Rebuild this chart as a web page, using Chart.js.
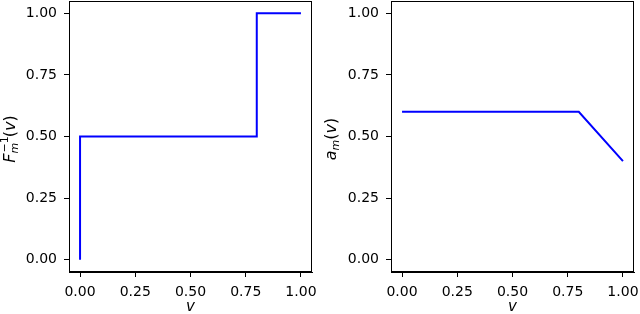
<!DOCTYPE html>
<html>
<head>
<meta charset="utf-8">
<script src="https://cdn.jsdelivr.net/npm/chart.js@4"></script>
<style>
  html, body { margin: 0; padding: 0; background: #fff; }
  #wrap { position: relative; width: 640px; height: 314px; }
  canvas { position: absolute; top: 0; }
</style>
</head>
<body>
<div id="wrap">
  <canvas id="left" width="320" height="314" style="left:0"></canvas>
  <canvas id="right" width="320" height="314" style="left:320px"></canvas>
</div>
<script>
// Données
const quantileV = [0, 0, 0.8, 0.8, 1];
const quantileF = [0, 0.5, 0.5, 1, 1];
const allocV = [0, 0.8, 1];
const allocA = [0.6, 0.6, 0.4];
const tickValues = [0, 0.25, 0.5, 0.75, 1];
const tickLabels = ["0.00", "0.25", "0.50", "0.75", "1.00"];

const FONT = "DejaVu Sans";

// Label math (F_m^{-1}(v), a_m(v)) dessiné en texte sur le canvas
function drawLabel(ctx, parts, x, cy) {
  ctx.save();
  ctx.fillStyle = "#000";
  ctx.textBaseline = "alphabetic";
  ctx.textAlign = "left";
  // mesure
  let w = 0, start = 0, prevW = 0;
  parts.forEach(p => {
    ctx.font = p.font;
    p.w = ctx.measureText(p.t).width;
    if (p.stack) { w = start + Math.max(prevW, p.w); }
    else { start = w; w += p.w; }
    prevW = p.w;
  });
  ctx.translate(x, cy);
  ctx.rotate(-Math.PI / 2);
  let cur = -w / 2; start = cur; prevW = 0;
  parts.forEach(p => {
    ctx.font = p.font;
    if (p.stack) {
      ctx.fillText(p.t, start + (p.dx || 0), p.dy || 0);
      cur = start + Math.max(prevW, p.w);
    } else {
      start = cur;
      ctx.fillText(p.t, cur + (p.dx || 0), p.dy || 0);
      cur += p.w;
    }
    prevW = p.w;
  });
  ctx.restore();
}

const framePlugin = {
  id: "frame",
  afterDraw(chart, args, opts) {
    const { ctx, chartArea: a } = chart;
    ctx.save();
    ctx.strokeStyle = "#000";
    ctx.lineWidth = 1;
    ctx.strokeRect(Math.round(a.left) + 0.5, Math.round(a.top) + 0.5,
      Math.round(a.right - a.left) - 1, Math.round(a.bottom - a.top) - 1);
    ctx.restore();
    drawLabel(ctx, opts.parts, opts.x, opts.cy);
  }
};

function makeChart(id, xs, ys, yWidth, padRight, labelParts, labelX) {
  const ctx = document.getElementById(id).getContext("2d");
  return new Chart(ctx, {
    type: "line",
    data: {
      datasets: [{
        data: xs.map((v, i) => ({ x: v, y: ys[i] })),
        borderColor: "#0000ff",
        borderWidth: 2,
        pointRadius: 0,
        tension: 0,
        fill: false
      }]
    },
    options: {
      responsive: false,
      animation: false,
      layout: { padding: { left: 0, right: padRight, top: 1, bottom: 0 } },
      plugins: {
        legend: { display: false },
        tooltip: { enabled: false },
        frame: { parts: labelParts, x: labelX, cy: 139 }
      },
      scales: {
        x: {
          type: "linear",
          min: -0.05, max: 1.05,
          afterBuildTicks: s => { s.ticks = tickValues.map(v => ({ value: v })); },
          afterFit: s => { s.height = 42; s.paddingLeft = 0; s.paddingRight = 0; },
          grid: { drawOnChartArea: false, drawTicks: true, tickLength: 5, color: "#000" },
          border: { display: true, color: "#000", width: 1 },
          ticks: {
            color: "#000", padding: 7, maxRotation: 0,
            font: { family: FONT, size: 14 },
            callback: (v) => tickLabels[tickValues.indexOf(v)]
          },
          title: {
            display: true, text: "v", color: "#000",
            font: { family: FONT, size: 15, style: "italic" },
            padding: { top: 0, bottom: -2 }
          }
        },
        y: {
          type: "linear",
          min: -0.05, max: 1.05,
          afterBuildTicks: s => { s.ticks = tickValues.map(v => ({ value: v })); },
          afterFit: s => { s.width = yWidth; s.paddingTop = 0; s.paddingBottom = 0; },
          grid: { drawOnChartArea: false, drawTicks: true, tickLength: 5, color: "#000" },
          border: { display: true, color: "#000", width: 1 },
          ticks: {
            color: "#000", padding: 7,
            font: { family: FONT, size: 14 },
            callback: (v) => tickLabels[tickValues.indexOf(v)]
          }
        }
      }
    },
    plugins: [framePlugin]
  });
}

const big = "16px '" + FONT + "'";
const bigI = "italic 16px '" + FONT + "'";
const small = "11px '" + FONT + "'";
const smallI = "italic 11px '" + FONT + "'";

makeChart("left", quantileV, quantileF, 69, 8, [
  { t: "F", font: bigI },
  { t: "\u22121", font: small, dy: -7, dx: 1 },
  { t: "m", font: smallI, dy: 3, stack: true },
  { t: "(", font: big },
  { t: "v", font: bigI },
  { t: ")", font: big }
], 15);

makeChart("right", allocV, allocA, 71, 6, [
  { t: "a", font: bigI },
  { t: "m", font: smallI, dy: 3 },
  { t: "(", font: big },
  { t: "v", font: bigI },
  { t: ")", font: big }
], 16);
</script>
</body>
</html>
